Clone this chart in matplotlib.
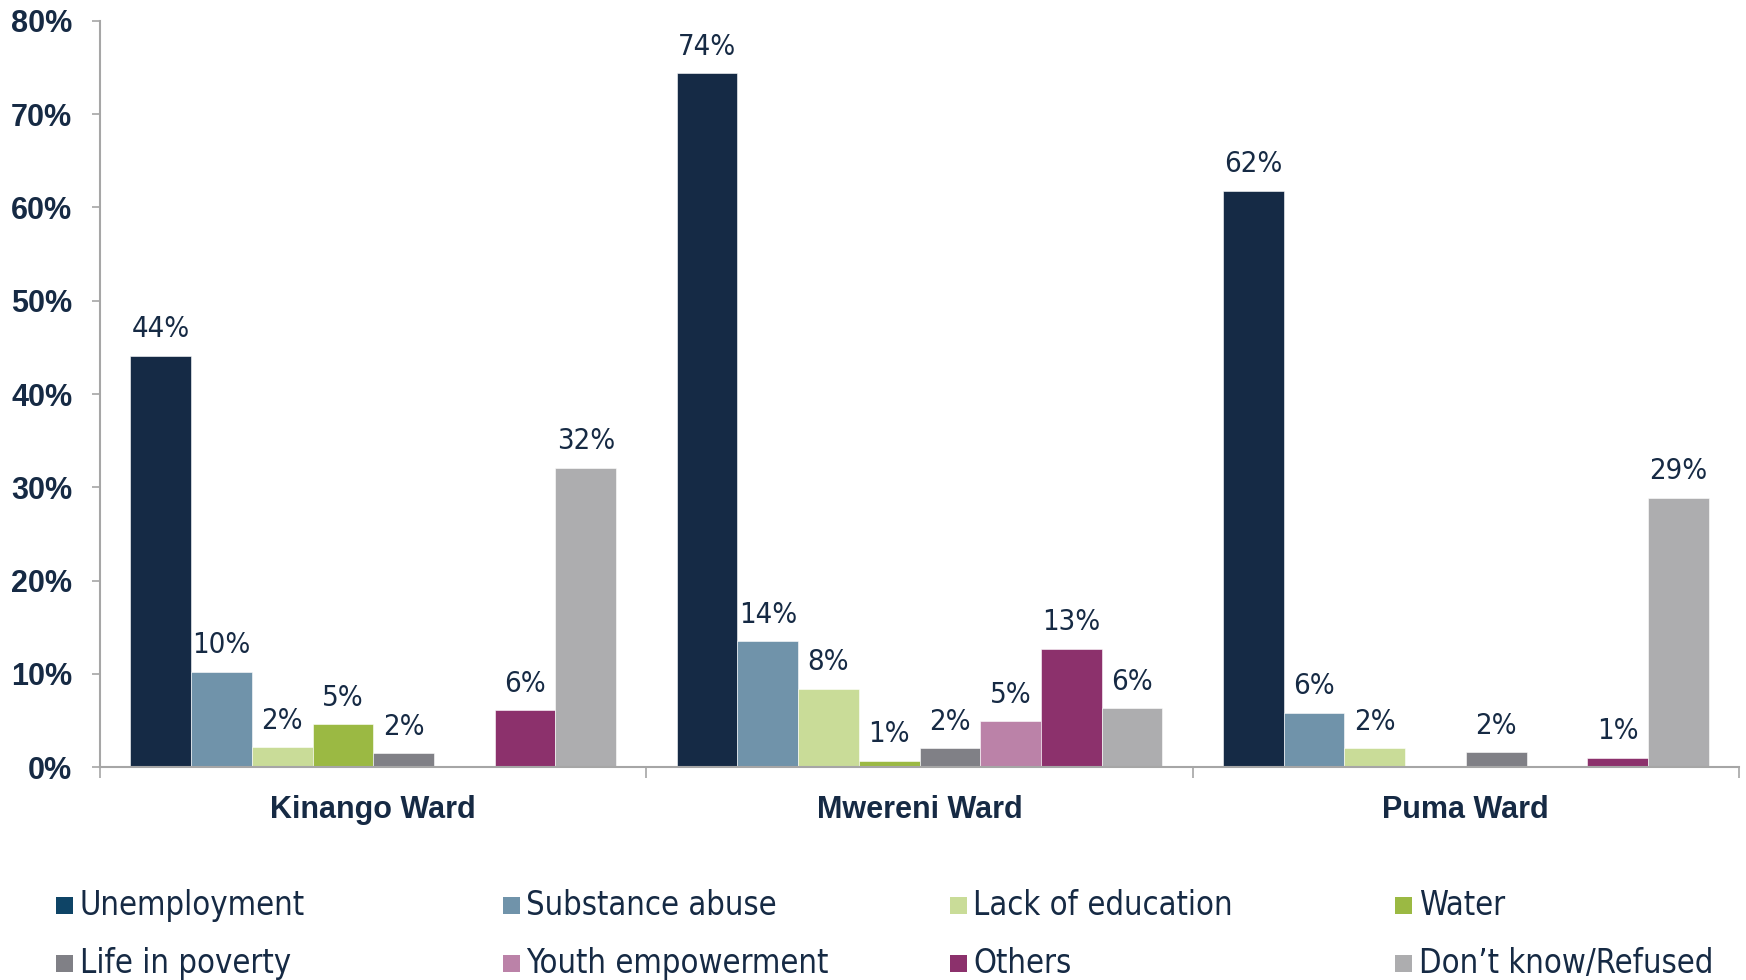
import numpy as np
import matplotlib
matplotlib.use("Agg")
from matplotlib import pyplot as plt
from matplotlib.patches import Rectangle

wards = ["Kinango Ward", "Mwereni Ward", "Puma Ward"]
series = ["Unemployment", "Substance abuse", "Lack of education", "Water",
          "Life in poverty", "Youth empowerment", "Others", "Don\u2019t know/Refused"]
colors = ["#152A45", "#7093AA", "#C9DC98", "#9BB943",
          "#808086", "#BB82A8", "#8C316C", "#ADADAF"]
legend_colors = ["#0E4466", "#7093AA", "#C9DC98", "#9BB943",
                 "#808086", "#BB82A8", "#8C316C", "#ADADAF"]

# values in %, one list per series (Kinango, Mwereni, Puma)
unemployment = [44.1, 74.4, 61.8]
substance = [10.2, 13.5, 5.8]
education = [2.1, 8.4, 2.0]
water = [4.6, 0.7, 0]
poverty = [1.5, 2.0, 1.6]
youth = [0, 4.9, 0]
others = [6.1, 12.7, 1.0]
dont_know = [32.1, 6.3, 28.9]
values = [unemployment, substance, education, water, poverty, youth, others, dont_know]

navy = "#162A44"
grey = "#A6A6A6"
narrow = dict(family="DejaVu Sans", stretch="condensed")

fig = plt.figure(figsize=(17.46, 9.8), dpi=100)
ax = fig.add_axes([0.0573, 0.2173, 0.9387, 0.7613])

x = np.arange(len(wards)) + 0.5
w = 1 / 9
for i, (name, vals) in enumerate(zip(series, values)):
    bars = ax.bar(x + (i - 3.5) * w, vals, w, color=colors[i], label=name,
                  edgecolor="white", linewidth=0.4)
    labels = ["%d%%" % round(v) if v > 0 else "" for v in vals]
    ax.bar_label(bars, labels=labels, padding=9, fontsize=21, color=navy, **narrow)

ax.set_xlim(0, 3)
ax.set_ylim(0, 80)
ax.set_yticks(np.arange(0, 81, 10))
ax.set_yticklabels(["%d%%" % t for t in np.arange(0, 81, 10)],
                   fontsize=22, fontweight="bold", color=navy, family="Liberation Sans")
ax.tick_params(axis="y", length=6, width=1.2, color=grey, pad=14)

ax.set_xticks(x)
ax.set_xticklabels(wards, fontsize=22, fontweight="bold", color=navy, family="Liberation Sans")
ax.tick_params(axis="x", which="major", length=0, pad=20)
ax.set_xticks([0, 1, 2, 3], minor=True)
ax.tick_params(axis="x", which="minor", length=8, width=1.2, color=grey)

for s in ["top", "right"]:
    ax.spines[s].set_visible(False)
for s in ["left", "bottom"]:
    ax.spines[s].set_color(grey)
    ax.spines[s].set_linewidth(1.5)

# legend laid out as 4 columns x 2 rows
col_x = [0.0321, 0.288, 0.544, 0.799]
row_y = [0.076, 0.0165]
for i, name in enumerate(series):
    cx = col_x[i % 4]
    cy = row_y[i // 4]
    fig.patches.append(Rectangle((cx, cy - 0.0085), 0.0097, 0.0173, transform=fig.transFigure,
                                 facecolor=legend_colors[i], edgecolor="none"))
    fig.text(cx + 0.0135, cy, name, fontsize=23.5, color=navy, va="center", ha="left", **narrow)

fig.savefig("out.png", dpi=100)
